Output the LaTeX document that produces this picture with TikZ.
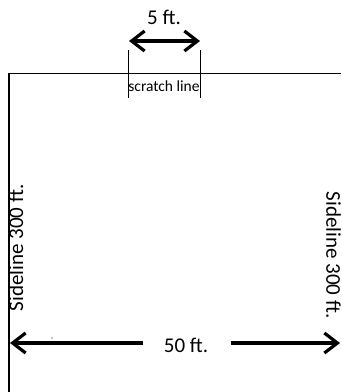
\documentclass[tikz,border=0pt]{standalone}
\usepackage{fontspec}
\setmainfont{Carlito}
\usetikzlibrary{arrows.meta}
\tikzset{
  thin line/.style={line width=1.4pt},
  dimarrow/.style={line width=3.2pt, -{Straight Barb[length=13pt,width=20pt,line width=3.2pt]}},
  big/.style={font=\fontsize{21}{23}\selectfont, inner sep=0pt},
  small/.style={font=\fontsize{15.5}{17}\selectfont, inner sep=0pt},
}
\begin{document}
\begin{tikzpicture}[x=1pt,y=-1pt]
\useasboundingbox (0,0) rectangle (341,392);
% field boundaries
\coordinate (tl) at (9,73.5);
\coordinate (tr) at (341,73.5);
\coordinate (bl) at (9,392);
\draw[thin line] (bl) -- (tl) -- (tr);
% scratch line ticks
\coordinate (t1a) at (128,50);
\coordinate (t1b) at (128,98);
\coordinate (t2a) at (200,50);
\coordinate (t2b) at (200,98);
\draw[line width=0.9pt] (t1a) -- (t1b);
\draw[line width=0.9pt] (t2a) -- (t2b);
\node[small] (scratch) at (164,86) {scratch line};
% 5 ft arrow
\coordinate (fa) at (164,41);
\coordinate (fl) at (129,41);
\coordinate (fr) at (200,41);
\draw[dimarrow] (fa) -- (fl);
\draw[dimarrow] (fa) -- (fr);
\node[big] (five) at (164,17) {5 ft.};
% sidelines
\node[big, rotate=90] (sl) at (16,248) {Sideline 300 ft.};
\node[big, rotate=-90] (sr) at (333.5,255) {Sideline 300 ft.};
% 50 ft arrow
\node[big] (fifty) at (186,345) {50 ft.};
\coordinate (la) at (143,343);
\coordinate (lb) at (10,343);
\coordinate (ra) at (231,343);
\coordinate (rb) at (340,343);
\draw[dimarrow] (la) -- (lb);
\draw[dimarrow] (ra) -- (rb);
\fill (52,338) circle (0.7);
\end{tikzpicture}
\end{document}
